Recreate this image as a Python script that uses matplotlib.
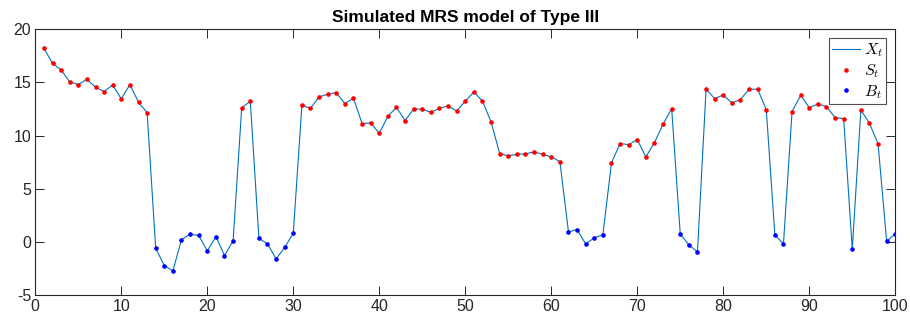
import matplotlib
matplotlib.use("Agg")
import matplotlib.pyplot as plt
import numpy as np

t = list(range(1, 101))
x_vals = [18.21, 16.80, 16.18, 15.05, 14.80, 15.30, 14.55, 14.14, 14.76, 13.45,
          14.80, 13.13, 12.16, -0.60, -2.23, -2.73, 0.22, 0.72, 0.60, -0.85,
          0.50, -1.29, 0.09, 12.60, 13.23, 0.34, -0.19, -1.60, -0.53, 0.82,
          12.85, 12.57, 13.64, 13.89, 14.04, 13.01, 13.51, 11.13, 11.19, 10.22,
          11.82, 12.66, 11.41, 12.51, 12.48, 12.19, 12.57, 12.79, 12.32, 13.23,
          14.11, 13.23, 11.29, 8.31, 8.09, 8.24, 8.28, 8.46, 8.24, 7.99,
          7.55, 0.94, 1.16, -0.19, 0.38, 0.66, 7.43, 9.25, 9.15, 9.62,
          7.99, 9.34, 11.07, 12.54, 0.72, -0.28, -0.94, 14.36, 13.48, 13.82,
          13.07, 13.39, 14.36, 14.36, 12.45, 0.66, -0.19, 12.26, 13.79, 12.63,
          12.98, 12.73, 11.69, 11.60, -0.69, 12.41, 11.16, 9.22, 0.06, 0.75]
# regime: 1 = spike/normal (S_t, red), 0 = base (B_t, blue)
regime = [1]*13 + [0]*10 + [1]*2 + [0]*5 + [1]*31 + [0]*5 + [1]*8 + [0]*3 + \
         [1]*8 + [0]*2 + [1]*7 + [0]*1 + [1]*3 + [0]*2

title = "Simulated MRS model of Type III"
legend_labels = [r"$X_t\;\;$", r"$S_t\;\;$", r"$B_t\;\;$"]
x_ticks = [0, 10, 20, 30, 40, 50, 60, 70, 80, 90, 100]
y_ticks = [-5, 0, 5, 10, 15, 20]

plt.rcParams['font.family'] = ['Liberation Sans', 'DejaVu Sans']
plt.rcParams['mathtext.fontset'] = 'cm'
plt.rcParams['axes.unicode_minus'] = False

t_arr = np.array(t)
x_arr = np.array(x_vals)
r_arr = np.array(regime)

fig = plt.figure(figsize=(9.1, 3.24), dpi=100)
ax = fig.add_axes([0.0388, 0.0895, 0.945, 0.8201])

ax.plot(t_arr, x_arr, color=(0, 0.447, 0.741), lw=0.8, label=legend_labels[0])
ax.plot(t_arr[r_arr == 1], x_arr[r_arr == 1], linestyle='none', marker='o',
        ms=2.3, color='red', label=legend_labels[1])
ax.plot(t_arr[r_arr == 0], x_arr[r_arr == 0], linestyle='none', marker='o',
        ms=2.3, color='blue', label=legend_labels[2])

ax.set_xlim(0, 100)
ax.set_ylim(-5, 20)
ax.set_xticks(x_ticks)
ax.set_yticks(y_ticks)
ax.tick_params(direction='in', length=6.2, width=0.7, colors='#262626',
               labelsize=11.5, top=True, right=True, pad=3)
for s in ax.spines.values():
    s.set_color('#262626')
    s.set_linewidth(0.8)

ax.set_title(title, fontsize=12.5, fontweight='bold', pad=5)

leg = ax.legend(loc='upper right', fontsize=11.5, frameon=True, fancybox=False,
                edgecolor='#262626', borderpad=0.2, handlelength=1.7,
                handletextpad=0.3, labelspacing=0.2, borderaxespad=0.55)
leg.get_frame().set_linewidth(0.8)

fig.savefig("out.png", dpi=100)
